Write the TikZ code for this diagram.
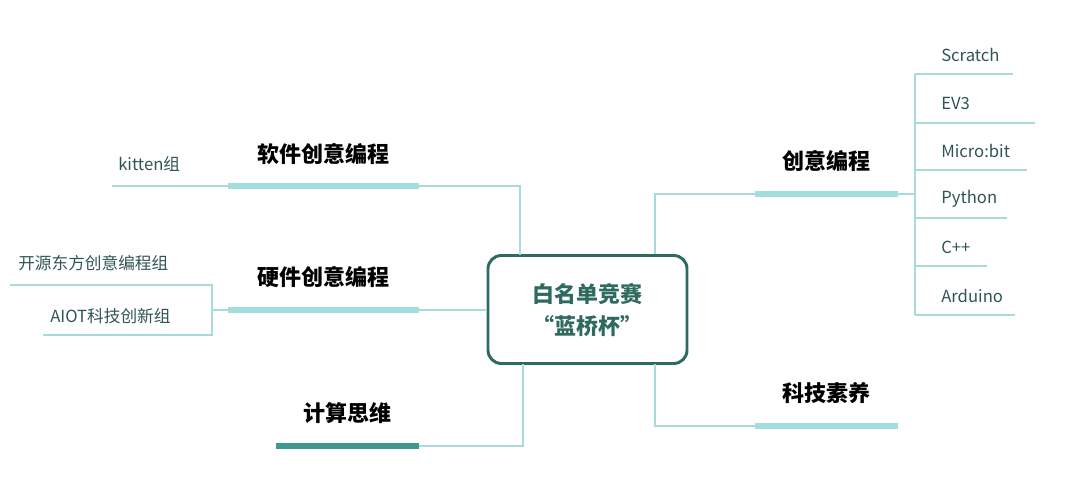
\documentclass[tikz,border=0pt]{standalone}
\usepackage{fontspec}
\setmainfont{Noto Sans CJK SC}
\definecolor{thin}{HTML}{A9DADA}
\definecolor{bar}{HTML}{A3DEDF}
\definecolor{dbar}{HTML}{3E9A8E}
\definecolor{dgreen}{HTML}{2F6A60}
\definecolor{subc}{HTML}{2F5553}
\begin{document}
\begin{tikzpicture}[x=0.75pt,y=-0.75pt,
  thinl/.style={draw=thin,line width=0.9pt},
  barl/.style={draw=bar,line width=4.5pt},
  dbarl/.style={draw=dbar,line width=4.5pt},
  lab/.style={font=\fontsize{16.5}{18}\selectfont\bfseries,text=black,inner sep=0pt},
  sub/.style={font=\fontsize{12.5}{14}\selectfont,text=subc,inner sep=0pt,anchor=west}]
\useasboundingbox (0,0) rectangle (1080,498);
% center
\node[draw=dgreen,line width=2.2pt,rounded corners=10pt,minimum width=199pt*0.75/0.75*0.75,minimum height=108*0.75pt,
  font=\fontsize{16.5}{24}\selectfont\bfseries,text=dgreen,align=center] (c) at (587.5,309.5) {白名单竞赛\\“蓝桥杯”};
% software
\coordinate (s1) at (228,186); \coordinate (s2) at (419,186);
\node[lab] (sw) at (323,154) {软件创意编程};
\draw[barl] (s1) -- (s2);
\draw[thinl] (s2) -- (520,186) -- (520,255);
\coordinate (k1) at (112,186);
\draw[thinl] (k1) -- (s1);
\node[sub] (kt) at (118,164) {kitten组};
% hardware
\coordinate (h1) at (228,310); \coordinate (h2) at (419,310);
\node[lab] (hw) at (323,277) {硬件创意编程};
\draw[barl] (h1) -- (h2);
\draw[thinl] (h2) -- (487,310);
\coordinate (hv) at (212,310);
\draw[thinl] (h1) -- (hv);
\draw[thinl] (10,285) -- (212,285) -- (212,335) -- (43,335);
\node[sub] (ky) at (18,263) {开源东方创意编程组};
\node[sub] (ai) at (50,316) {AIOT科技创新组};
% computational thinking
\coordinate (j1) at (276,446); \coordinate (j2) at (419,446);
\node[lab] (js) at (347,413) {计算思维};
\draw[dbarl] (j1) -- (j2);
\draw[thinl] (j2) -- (523,446) -- (523,364);
% creative programming
\coordinate (r1) at (755,194); \coordinate (r2) at (898,194);
\node[lab] (cy) at (826,161) {创意编程};
\draw[barl] (r1) -- (r2);
\draw[thinl] (655,254) -- (655,194) -- (r1);
\draw[thinl] (r2) -- (915,194);
\draw[thinl] (915,74) -- (915,315);
\foreach \y/\e/\t [count=\i] in {74/1013/Scratch,123/1035/EV3/SPIKE,170/1027/Micro:bit,218/1007/Python,266/987/C++,315/1015/Arduino}{
  \draw[thinl] (915,\y) -- (\e,\y);
  \node[sub] (it\i) at (941,\y-19) {\t};
}
% science literacy
\coordinate (t1) at (755,426); \coordinate (t2) at (898,426);
\node[lab] (kj) at (826,393) {科技素养};
\draw[barl] (t1) -- (t2);
\draw[thinl] (655,364) -- (655,426) -- (t1);
\end{tikzpicture}
\end{document}
